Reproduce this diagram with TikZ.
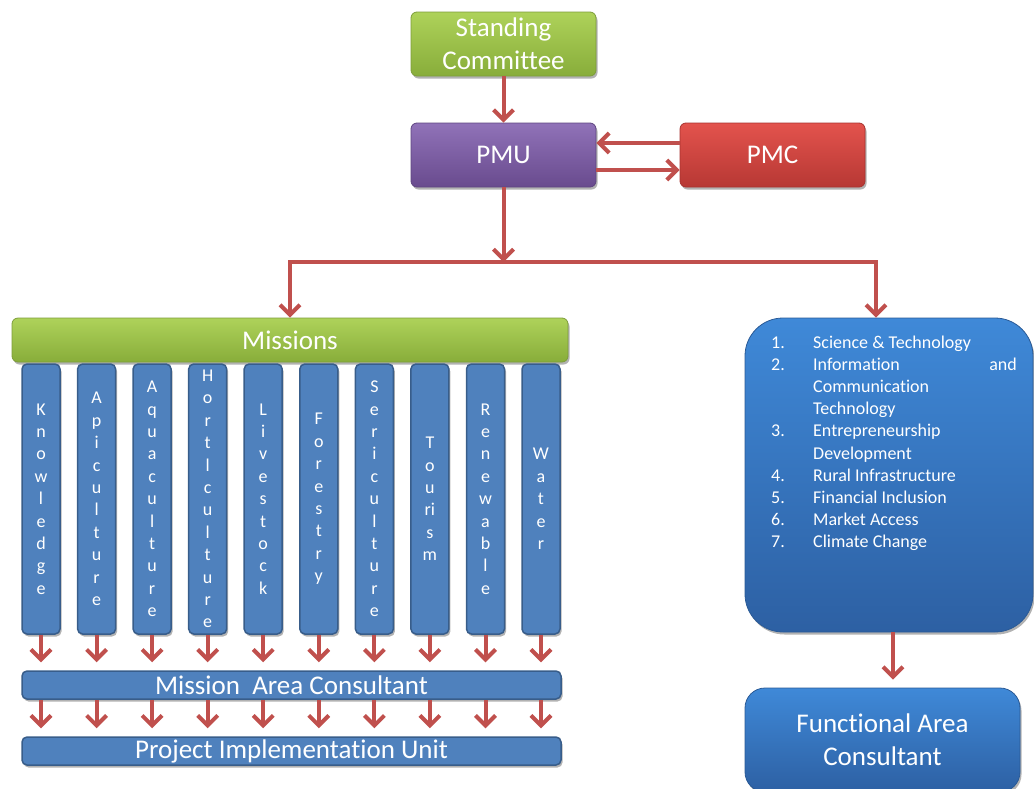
\documentclass[tikz,border=0pt]{standalone}
\usepackage{fontspec}
\setmainfont{Carlito}[Ligatures=NoCommon]
\usetikzlibrary{arrows.meta,shadows,calc}
\definecolor{arrowred}{HTML}{C0504D}
\definecolor{gtop}{HTML}{AED25A}
\definecolor{gbot}{HTML}{88AD3A}
\definecolor{gline}{HTML}{7D9D3A}
\definecolor{ptop}{HTML}{9072B8}
\definecolor{pbot}{HTML}{694B8E}
\definecolor{pline}{HTML}{5E4580}
\definecolor{rtop}{HTML}{E3534D}
\definecolor{rbot}{HTML}{B73834}
\definecolor{rline}{HTML}{A8332F}
\definecolor{colblue}{HTML}{4F81BD}
\definecolor{colline}{HTML}{385D8A}
\definecolor{btop}{HTML}{3F89D8}
\definecolor{bbot}{HTML}{2D60A3}
\definecolor{bline}{HTML}{2A5A96}
\tikzset{
  box/.style={rounded corners=6pt, inner sep=0pt, text=white, align=center,
    font=\fontsize{27}{33}\selectfont,
    drop shadow={shadow xshift=1.5pt, shadow yshift=-2.5pt, opacity=0.3, fill=black}},
  greenbox/.style={box, top color=gtop, bottom color=gbot, draw=gline, line width=0.8pt},
  purplebox/.style={box, top color=ptop, bottom color=pbot, draw=pline, line width=0.8pt},
  redbox/.style={box, top color=rtop, bottom color=rbot, draw=rline, line width=0.8pt},
  bluebar/.style={box, fill=colblue, draw=colline, line width=1.5pt, rounded corners=5pt},
  colbox/.style={bluebar, minimum width=38pt, minimum height=270pt,
    font=\fontsize{18}{22.4}\selectfont},
  bigblue/.style={box, top color=btop, bottom color=bbot, draw=bline, line width=0.8pt},
  listtxt/.style={text=white, inner sep=0pt, anchor=base west, font=\fontsize{18}{22}\selectfont},
  con/.style={draw=arrowred, line width=4pt},
  arr/.style={con, -{Straight Barb[length=10pt,width=20pt]}}
}
\begin{document}
\begin{tikzpicture}[x=1pt,y=-1pt]
\useasboundingbox (0,0) rectangle (1034,788);
\clip (0,0) rectangle (1034,788);

% top nodes
\node[greenbox, minimum width=185pt, minimum height=64pt] (sc) at (503.5,44) {Standing\\Committee};
\node[purplebox, minimum width=185pt, minimum height=64pt] (pmu) at (503.5,155) {PMU};
\node[redbox, minimum width=185pt, minimum height=64pt] (pmc) at (772.5,155) {PMC};

% missions
\node[greenbox, minimum width=556pt, minimum height=44pt] (mis) at (290,340) {Missions};

\node[colbox] (c0) at (41,499) {K\\n\\o\\w\\l\\e\\d\\g\\e};
\node[colbox] (c1) at (96.6,499) {A\\p\\i\\c\\u\\l\\t\\u\\r\\e};
\node[colbox] (c2) at (152.1,499) {A\\q\\u\\a\\c\\u\\l\\t\\u\\r\\e};
\node[colbox] (c3) at (207.7,499) {H\\o\\r\\t\\l\\c\\u\\l\\t\\u\\r\\e};
\node[colbox] (c4) at (263.2,499) {L\\i\\v\\e\\s\\t\\o\\c\\k};
\node[colbox] (c5) at (318.8,499) {F\\o\\r\\e\\s\\t\\r\\y};
\node[colbox] (c6) at (374.4,499) {S\\e\\r\\i\\c\\u\\l\\t\\u\\r\\e};
\node[colbox] (c7) at (429.9,499) {T\\o\\u\\ri\\s\\m};
\node[colbox] (c8) at (485.5,499) {R\\e\\n\\e\\w\\a\\b\\l\\e};
\node[colbox] (c9) at (541,499) {W\\a\\t\\e\\r};

\node[bluebar, minimum width=539pt, minimum height=28pt] (mac) at (291.5,685) {Mission\ \ Area Consultant};
\node[bluebar, minimum width=539pt, minimum height=28pt] (piu) at (291.5,751) {Project Implementation Unit};

% right side
\node[bigblue, rounded corners=38pt, minimum width=288pt, minimum height=314pt] (rbox) at (889,475) {};
\node[bigblue, rounded corners=20pt, minimum width=275pt, minimum height=104pt] (fac) at (882.5,740) {Functional Area\\Consultant};

\node[listtxt] (n1) at (771,348) {1.};
\node[listtxt] (t1) at (813,348) {Science \& Technology};
\node[listtxt] (n2) at (771,370.2) {2.};
\node[listtxt] (t2) at (813,370.2) {Information};
\node[listtxt, anchor=base east] (t2b) at (1017,370.2) {and};
\node[listtxt] (t2c) at (813,392.4) {Communication};
\node[listtxt] (t2d) at (813,414.6) {Technology};
\node[listtxt] (n3) at (771,436.8) {3.};
\node[listtxt] (t3) at (813,436.8) {Entrepreneurship};
\node[listtxt] (t3b) at (813,459) {Development};
\node[listtxt] (n4) at (771,481.2) {4.};
\node[listtxt] (t4) at (813,481.2) {Rural Infrastructure};
\node[listtxt] (n5) at (771,503.4) {5.};
\node[listtxt] (t5) at (813,503.4) {Financial Inclusion};
\node[listtxt] (n6) at (771,525.6) {6.};
\node[listtxt] (t6) at (813,525.6) {Market Access};
\node[listtxt] (n7) at (771,547.8) {7.};
\node[listtxt] (t7) at (813,547.8) {Climate Change};

% connectors
\draw[arr] (sc) -- (pmu);
\draw[arr] ($(pmc.west)+(0,-12)$) -- ($(pmu.east)+(0,-12)$);
\draw[arr] ($(pmu.east)+(0,15)$) -- ($(pmc.west)+(0,15)$);

\coordinate (j) at (503.5,262);
\coordinate (jl) at (290,262);
\coordinate (jr) at (876,262);
\draw[con] ($(jl)+(-2,0)$) -- ($(jr)+(2,0)$);
\draw[arr] (pmu) -- (j);
\draw[arr] (jl) -- (mis.north);
\draw[arr] (jr) -- (jr |- rbox.north);

\foreach \i in {0,...,9}{
  \draw[arr, shorten >=8pt] (c\i.south) -- (c\i.south |- mac.north);
  \draw[arr, shorten >=8pt] (c\i.south |- mac.south) -- (c\i.south |- piu.north);
}
\coordinate (rb) at (893,632);
\draw[arr, shorten >=8pt] (rb) -- (rb |- fac.north);
\end{tikzpicture}
\end{document}
